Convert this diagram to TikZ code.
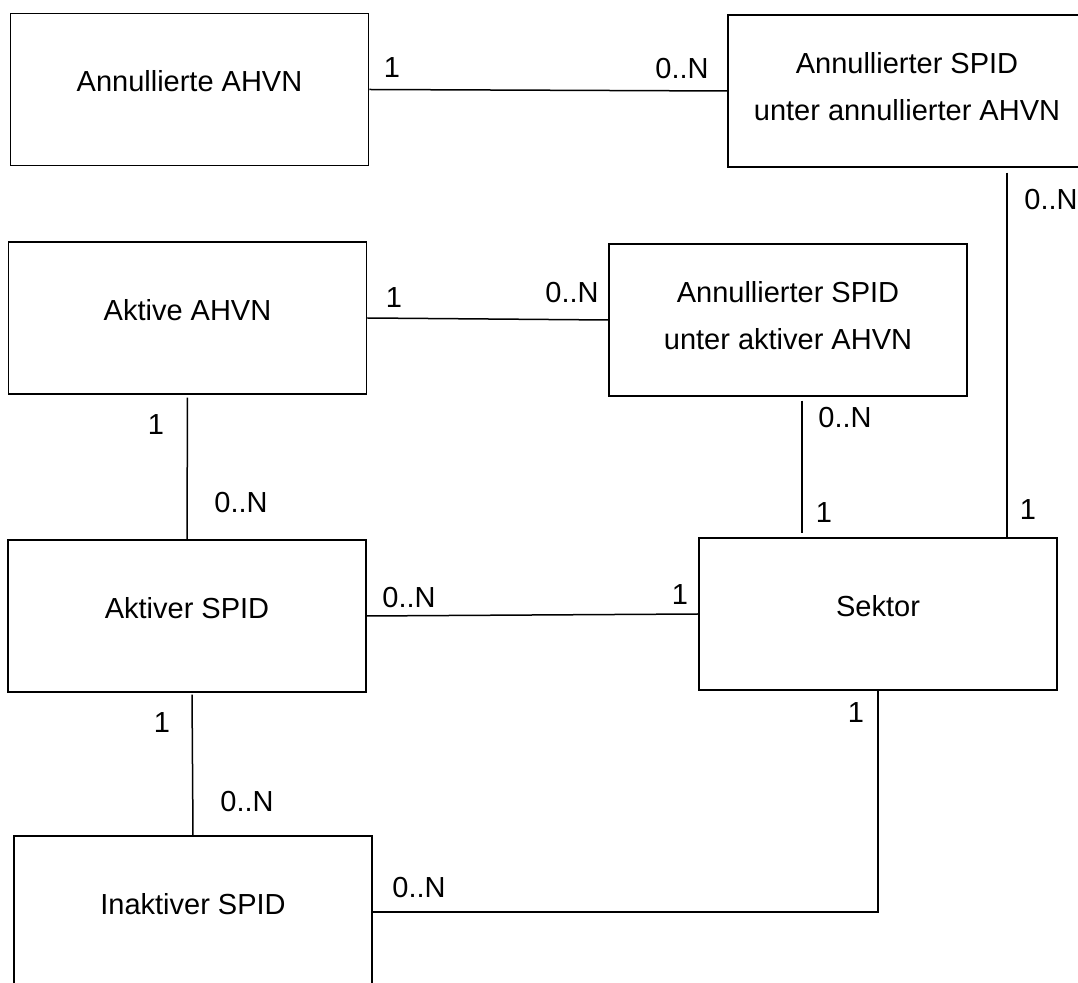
\documentclass[tikz,border=0pt]{standalone}
\usepackage{fontspec}
\setmainfont{Liberation Sans}
\usepackage{tikz}

\begin{document}
\begin{tikzpicture}[x=0.5pt,y=-0.5pt]
\tikzstyle{every node}+=[inner sep=0pt, font=\fontsize{14.5pt}{23.5pt}\selectfont]
\tikzstyle{entity}=[draw=black, line width=0.75pt, minimum width=179pt, minimum height=76pt, align=center, text depth=8pt]
\tikzstyle{twoline}=[text depth=4.5pt]
\useasboundingbox (0,0) rectangle (1078,983);
\node [entity] (annahvn) at (189.5,89.5) {Annullierte AHVN};
\node [entity, twoline] (annspidann) at (907,91) {Annullierter SPID\\unter annullierter AHVN};
\node [entity] (aktahvn) at (187.5,318) {Aktive AHVN};
\node [entity, twoline] (annspidakt) at (788,320) {Annullierter SPID\\unter aktiver AHVN};
\node [entity] (aktspid) at (187,616) {Aktiver SPID};
\node [entity] (sektor) at (878,614) {Sektor};
\node [entity] (inaktspid) at (193,912) {Inaktiver SPID};
\draw [black, line width=0.75pt] (annahvn.east) -- (annspidann.west);
\draw (392,68) node (m1) {1};
\draw (682,69) node (m2) {0..N};
\draw [black, line width=0.75pt] (aktahvn.east) -- (annspidakt.west);
\draw (394,298) node (m3) {1};
\draw (572,293) node (m4) {0..N};
\draw [black, line width=0.75pt, shorten <=2.5pt] ([xshift=-25.5pt]sektor.north east |- annspidann.south) -- ([xshift=-25.5pt]sektor.north east);
\draw (1051,200) node (m5) {0..N};
\draw (1028,510) node (m6) {1};
\draw [black, line width=0.75pt, shorten <=2pt, shorten >=2pt] ([xshift=7pt]annspidakt.south) -- ([xshift=7pt]annspidakt.south |- sektor.north);
\draw (845,418) node (m7) {0..N};
\draw (824,513) node (m8) {1};
\draw [black, line width=0.75pt, shorten <=1.5pt] (aktahvn.south) -- (aktspid.north);
\draw (156,425) node (m9) {1};
\draw (241,503) node (m10) {0..N};
\draw [black, line width=0.75pt] (aktspid.east) -- (sektor.west);
\draw (409,598) node (m11) {0..N};
\draw (680,595) node (m12) {1};
\draw [black, line width=0.75pt, shorten <=1pt] ([xshift=2.5pt]aktspid.south) -- (inaktspid.north);
\draw (162,723) node (m13) {1};
\draw (247,802) node (m14) {0..N};
\draw [black, line width=0.75pt] (inaktspid.east) -| (sektor.south);
\draw (419,888) node (m15) {0..N};
\draw (856,713) node (m16) {1};
\end{tikzpicture}
\end{document}
